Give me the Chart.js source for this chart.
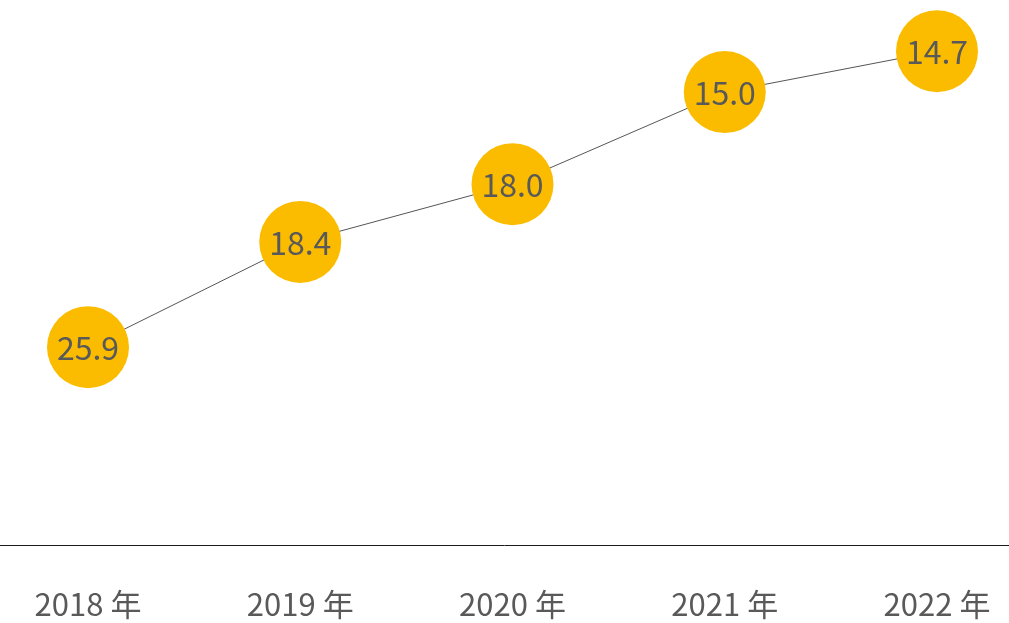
<!DOCTYPE html>
<html>
<head>
<meta charset="utf-8">
<script src="https://cdn.jsdelivr.net/npm/chart.js@4"></script>
<style>
    html, body { margin: 0; padding: 0; background: #fff; }
    #wrap { width: 1009px; height: 623px; }
</style>
</head>
<body>
<div id="wrap"><canvas id="chart"></canvas></div>
<script>
    // categories and values
    const years = ['2018 年', '2019 年', '2020 年', '2021 年', '2022 年'];
    const shown = [25.9, 18.4, 18.0, 15.0, 14.7];
    // vertical level of each bubble (0 = axis line, 100 = top)
    const levels = [36.3, 55.6, 66.2, 83.1, 90.6];

    const fontFamily = '"Noto Sans CJK SC", "Noto Sans", sans-serif';

    // full-width base line + value text inside the bubbles
    const extras = {
        id: 'extras',
        beforeDatasetsDraw(chart) {
            const ctx = chart.ctx;
            const y = Math.round(chart.chartArea.bottom) + 0.5;
            ctx.save();
            ctx.strokeStyle = '#1a1a1a';
            ctx.lineWidth = 1;
            ctx.beginPath();
            ctx.moveTo(0, y);
            ctx.lineTo(chart.width, y);
            ctx.stroke();
            ctx.restore();
        },
        afterDatasetsDraw(chart) {
            const ctx = chart.ctx;
            const meta = chart.getDatasetMeta(0);
            ctx.save();
            ctx.font = '32px ' + fontFamily;
            ctx.fillStyle = '#595959';
            ctx.textAlign = 'center';
            ctx.textBaseline = 'middle';
            meta.data.forEach((pt, i) => {
                ctx.fillText(shown[i].toFixed(1), pt.x, pt.y + 1);
            });
            ctx.restore();
        }
    };

    new Chart(document.getElementById('chart'), {
        type: 'line',
        data: {
            labels: years,
            datasets: [{
                data: levels,
                borderColor: '#555555',
                borderWidth: 1,
                pointRadius: 41,
                pointHoverRadius: 41,
                pointBackgroundColor: '#FBBC00',
                pointBorderWidth: 0,
                tension: 0,
                clip: false
            }]
        },
        options: {
            responsive: true,
            maintainAspectRatio: false,
            animation: false,
            layout: {
                autoPadding: false,
                padding: { left: 88, right: 72, top: 0, bottom: 0 }
            },
            plugins: {
                legend: { display: false },
                tooltip: { enabled: false }
            },
            scales: {
                x: {
                    offset: false,
                    grid: { display: false, drawTicks: false },
                    border: { display: false },
                    ticks: {
                        color: '#595959',
                        padding: 41,
                        maxRotation: 0,
                        font: { size: 31, family: fontFamily }
                    },
                    afterFit: s => {
                        s.height = 78;
                        s.paddingLeft = 0;
                        s.paddingRight = 0;
                    }
                },
                y: {
                    display: false,
                    min: 0,
                    max: 100
                }
            }
        },
        plugins: [extras]
    });
</script>
</body>
</html>
